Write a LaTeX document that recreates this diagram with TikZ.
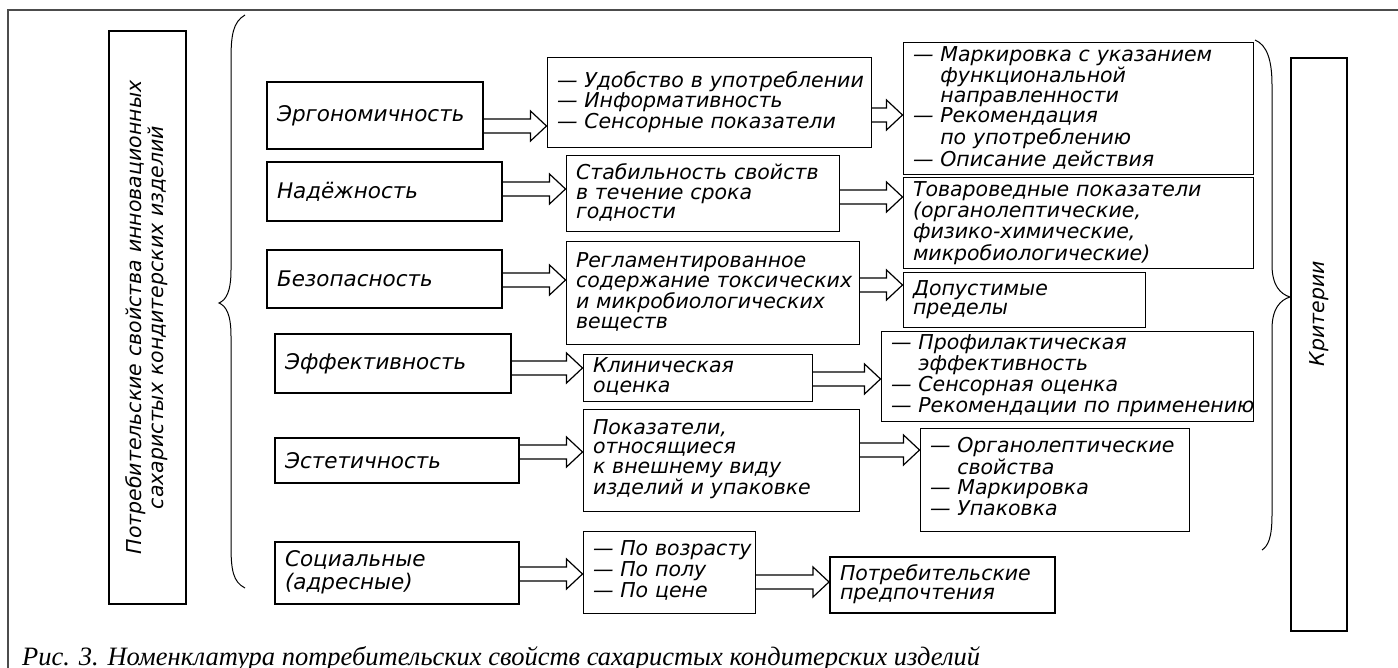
\documentclass[tikz,border=0pt]{standalone}
\usepackage{fontspec}
\setmainfont{DejaVu Sans}[ItalicFont={DejaVu Sans Oblique}]
\newfontfamily\capfont{Liberation Serif}
\newcommand{\dsh}{—\ }
\newcommand{\ind}{\hphantom{—\ }}
\newcommand{\rows}[1]{\begin{tabular}{@{}l@{}}#1\end{tabular}}
\newcommand{\blockarrow}[3]{%
  \path (#1.east |- 0,#3) coordinate (t0) (#2.west |- 0,#3) coordinate (t1);
  \draw[arr] ([yshift=7pt]t0) -- ([xshift=-16pt,yshift=7pt]t1) -- ([xshift=-16pt,yshift=15pt]t1) -- (t1)
    -- ([xshift=-16pt,yshift=-15pt]t1) -- ([xshift=-16pt,yshift=-7pt]t1) -- ([yshift=-7pt]t0);}

\begin{document}
\begin{tikzpicture}[x=1pt,y=-1pt,
    box/.style={draw, line width=1pt, inner xsep=8pt, inner ysep=2pt, align=left,
      font=\fontsize{20.5}{19.5}\selectfont\itshape},
    lbox/.style={box, line width=1.4pt, font=\fontsize{21.5}{21}\selectfont\itshape},
    tbox/.style={box, line width=2pt, align=center, rotate=90},
    wh/.style 2 args={minimum width=#1pt, minimum height=#2pt, text width=#1pt-20pt},
    arr/.style={line width=1.2pt, line join=miter},
    brace/.style={line width=1pt},
    frame/.style={draw=black!70, line width=1.5pt}]
  \useasboundingbox (0,0) rectangle (1398,668);
  \draw[frame] (8,668) -- (8,10) -- (1398,10);

  \node[tbox, wh={573}{77}] (prop) at (147.5,317.5) {\rows{Потребительские свойства инновационных\\\hfill сахаристых кондитерских изделий\hfill\null}};
  \node[tbox, wh={573}{56}] (crit) at (1319,344.5) {\hspace*{62pt}Критерии};

  \draw[brace] (245,15) .. controls (233,22) and (231,35) .. (231,60) -- (231,270)
    .. controls (231,292) and (226,300) .. (219,303) .. controls (226,306) and (231,314) .. (231,336)
    -- (231,545) .. controls (231,570) and (233,582) .. (245,588);
  \draw[brace] (1255,40) .. controls (1267,45) and (1272,60) .. (1272,85) -- (1272,265)
    .. controls (1272,285) and (1280,294) .. (1290,297) .. controls (1280,300) and (1272,309) .. (1272,329)
    -- (1272,515) .. controls (1272,538) and (1268,546) .. (1262,550);

  \node[lbox, wh={216}{67}] (erg) at (375,115.5) {Эргономичность};
  \node[lbox, wh={235}{59}, inner xsep=10pt] (nad) at (384.5,191.5) {Надёжность};
  \node[lbox, wh={235}{58}, inner xsep=10pt] (bez) at (384.5,279) {Безопасность};
  \node[lbox, wh={236}{59}, inner xsep=2pt] (eff) at (393,363.5) {Эффективность};
  \node[lbox, wh={244}{45}, inner xsep=3pt] (est) at (397,460.5) {Эстетичность};
  \node[lbox, wh={244}{62}, inner xsep=10pt] (soc) at (397,573) {\rows{Социальные\\(адресные)}};

  \node[box, wh={324}{90}] (udob) at (709,103) {\rows{\dsh Удобство в употреблении\\\dsh Информативность\\\dsh Сенсорные показатели}};
  \node[box, wh={273}{76}] (stab) at (702.5,194) {\rows{Стабильность свойств\\в течение срока\\годности}};
  \node[box, wh={293}{103}, inner xsep=5pt] (regl) at (712.5,293.5) {\rows{Регламентированное\\содержание токсических\\и микробиологических\\веществ}};
  \node[box, wh={229}{46}] (klin) at (697.5,378) {\rows{Клиническая\\оценка}};
  \node[box, wh={276}{102}] (pokaz) at (721,460) {\rows{Показатели,\\относящиеся\\к внешнему виду\\изделий и упаковке}};
  \node[box, wh={172}{82}, inner xsep=5pt] (vozr) at (669,572) {\rows{\dsh По возрасту\\\dsh По полу\\\dsh По цене}};

  \node[box, wh={350}{132}, inner xsep=5pt] (mark) at (1078,109) {\rows{\dsh Маркировка с указанием\\\ind функциональной\\\ind направленности\\\dsh Рекомендация\\\ind по употреблению\\\dsh Описание действия}};
  \node[box, wh={350}{91}] (tovar) at (1078,223.5) {\rows{Товароведные показатели\\(органолептические,\\физико-химические,\\микробиологические)}};
  \node[box, wh={242}{55}] (dop) at (1024,300.5) {\rows{Допустимые\\пределы}};
  \node[box, wh={372}{89}, inner xsep=3pt] (prof) at (1067,376.5) {\rows{\dsh Профилактическая\\\ind эффективность\\\dsh Сенсорная оценка\\\dsh Рекомендации по применению}};
  \node[box, wh={269}{103}, inner xsep=10pt] (organ) at (1054.5,479.5) {\rows{\dsh Органолептические\\\ind свойства\\\dsh Маркировка\\\dsh Упаковка}};
  \node[box, line width=2pt, wh={225}{56}] (pref) at (942.5,585) {\rows{Потребительские\\предпочтения}};

  \blockarrow{erg}{udob}{126}
  \blockarrow{udob}{mark}{115}
  \blockarrow{nad}{stab}{189}
  \blockarrow{stab}{tovar}{197}
  \blockarrow{bez}{regl}{280}
  \blockarrow{regl}{dop}{285}
  \blockarrow{eff}{klin}{368}
  \blockarrow{klin}{prof}{379}
  \blockarrow{est}{pokaz}{452}
  \blockarrow{pokaz}{organ}{450}
  \blockarrow{soc}{vozr}{574}
  \blockarrow{vozr}{pref}{582}

  \node[anchor=base west, inner sep=0pt, font=\capfont\itshape\fontsize{26.5}{26.5}\selectfont] (cap) at (22,665)
    {Рис. 3. Номенклатура потребительских свойств сахаристых кондитерских изделий};
\end{tikzpicture}
\end{document}
